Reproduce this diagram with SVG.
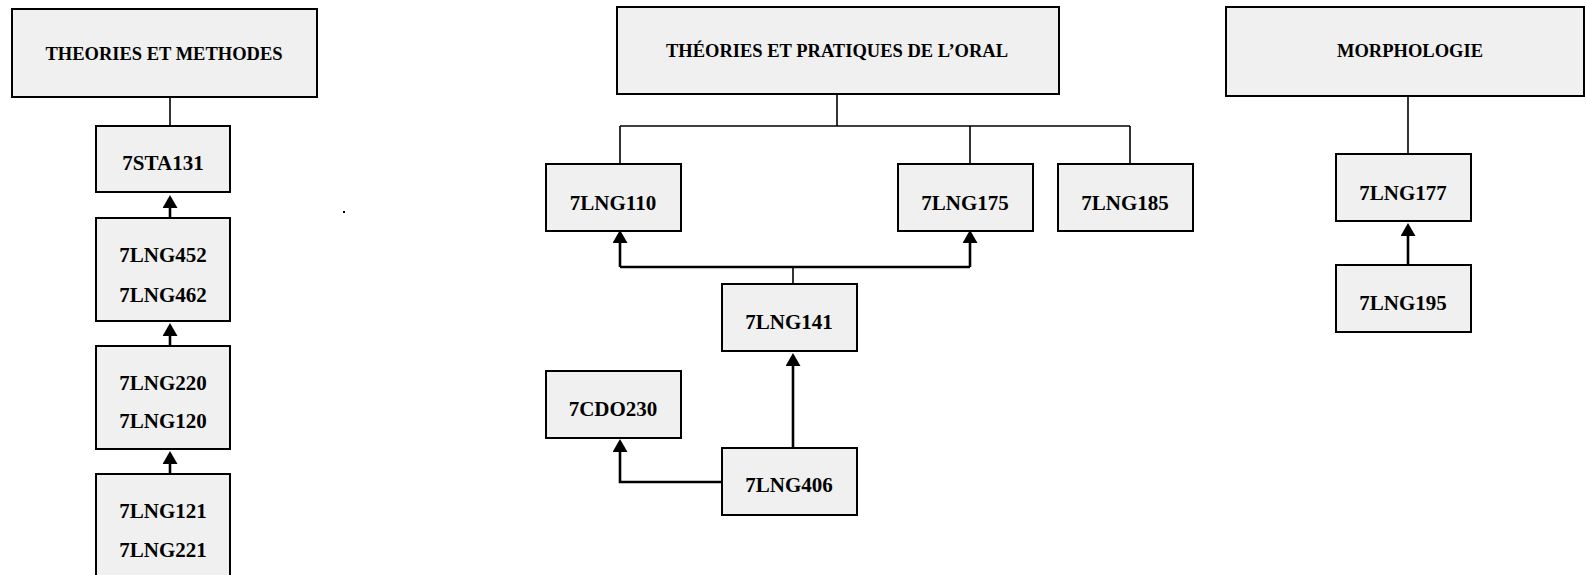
<svg xmlns="http://www.w3.org/2000/svg" width="1586" height="575" viewBox="0 0 1586 575">
<style>
.box{fill:#f0f0f0;stroke:#000;stroke-width:2}
.t{font-family:"Liberation Serif","Times New Roman",serif;font-weight:bold;text-anchor:middle;fill:#000}
.h{font-size:18.5px}
.n{font-size:21px}
.thin{fill:none;stroke:#000;stroke-width:1.6}
.arr{fill:none;stroke:#000;stroke-width:2.6}
</style>
<defs>
<marker id="ah" markerUnits="userSpaceOnUse" markerWidth="14" markerHeight="15" refX="0" refY="7.5" orient="auto" viewBox="0 0 14 15">
<path d="M0,0 L13,7.5 L0,15 z" fill="#000"/>
</marker>
</defs>
<rect width="1586" height="575" fill="#fff"/>
<rect x="343" y="211" width="2" height="2" fill="#000"/>
<g id="connectors">
<line class="thin" x1="170" y1="97" x2="170" y2="126"/>
<path class="arr" d="M170,218 V208" marker-end="url(#ah)"/>
<path class="arr" d="M170,346 V336" marker-end="url(#ah)"/>
<path class="arr" d="M170,474 V464" marker-end="url(#ah)"/>
<path class="thin" d="M837,94 V126 M620,126 H1130 M620,126 V164 M970,126 V164 M1130,126 V164"/>
<line class="thin" x1="793" y1="267" x2="793" y2="284"/>
<path class="arr" d="M620,267 H970"/>
<path class="arr" d="M620,267 V243" marker-end="url(#ah)"/>
<path class="arr" d="M970,267 V243" marker-end="url(#ah)"/>
<path class="arr" d="M793,448 V366" marker-end="url(#ah)"/>
<path class="arr" d="M722,482 H620 V452" marker-end="url(#ah)"/>
<line class="thin" x1="1408" y1="96" x2="1408" y2="154"/>
<path class="arr" d="M1408,265 V236" marker-end="url(#ah)"/>
</g>
<g id="theories-methodes"><rect class="box" x="12" y="9" width="305" height="88"/><text class="t h" x="164" y="60">THEORIES ET METHODES</text></g>
<g id="n7STA131"><rect class="box" x="96" y="126" width="134" height="66"/><text class="t n" x="163" y="170">7STA131</text></g>
<g id="n7LNG452"><rect class="box" x="96" y="218" width="134" height="103"/><text class="t n" x="163" y="262">7LNG452</text><text class="t n" x="163" y="302">7LNG462</text></g>
<g id="n7LNG220"><rect class="box" x="96" y="346" width="134" height="103"/><text class="t n" x="163" y="390">7LNG220</text><text class="t n" x="163" y="428">7LNG120</text></g>
<g id="n7LNG121"><rect class="box" x="96" y="474" width="134" height="120"/><text class="t n" x="163" y="518">7LNG121</text><text class="t n" x="163" y="557">7LNG221</text></g>
<g id="theories-oral"><rect class="box" x="617" y="7" width="442" height="87"/><text class="t h" x="837" y="57">THÉORIES ET PRATIQUES DE L’ORAL</text></g>
<g id="n7LNG110"><rect class="box" x="546" y="164" width="135" height="67"/><text class="t n" x="613" y="210">7LNG110</text></g>
<g id="n7LNG175"><rect class="box" x="898" y="164" width="135" height="67"/><text class="t n" x="965" y="210">7LNG175</text></g>
<g id="n7LNG185"><rect class="box" x="1058" y="164" width="135" height="67"/><text class="t n" x="1125" y="210">7LNG185</text></g>
<g id="n7LNG141"><rect class="box" x="722" y="284" width="135" height="67"/><text class="t n" x="789" y="329">7LNG141</text></g>
<g id="n7CDO230"><rect class="box" x="546" y="371" width="135" height="67"/><text class="t n" x="613" y="416">7CDO230</text></g>
<g id="n7LNG406"><rect class="box" x="722" y="448" width="135" height="67"/><text class="t n" x="789" y="492">7LNG406</text></g>
<g id="morphologie"><rect class="box" x="1226" y="7" width="358" height="89"/><text class="t h" x="1410" y="57">MORPHOLOGIE</text></g>
<g id="n7LNG177"><rect class="box" x="1336" y="154" width="135" height="67"/><text class="t n" x="1403" y="200">7LNG177</text></g>
<g id="n7LNG195"><rect class="box" x="1336" y="265" width="135" height="67"/><text class="t n" x="1403" y="310">7LNG195</text></g>
</svg>
